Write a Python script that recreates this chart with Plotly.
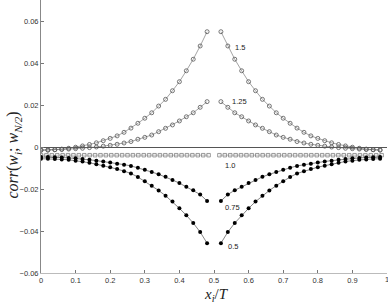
import plotly.graph_objects as go

# x positions (fraction of T)
x_left = [0.00, 0.02, 0.04, 0.06, 0.08, 0.10, 0.12, 0.14, 0.16, 0.18, 0.20, 0.22, 0.24,
          0.26, 0.28, 0.30, 0.32, 0.34, 0.36, 0.38, 0.40, 0.42, 0.44, 0.46, 0.48]
x_right = [0.52, 0.54, 0.56, 0.58, 0.60, 0.62, 0.64, 0.66, 0.68, 0.70, 0.72, 0.74,
           0.76, 0.78, 0.80, 0.82, 0.84, 0.86, 0.88, 0.90, 0.92, 0.94, 0.96, 0.98]

# left-half values (x = 0 .. 0.48)
v15_left = [-0.0016, -0.0015, -0.0013, -0.0010, -0.0006, -0.0001, 0.0005, 0.0012, 0.0020,
            0.0030, 0.0041, 0.0053, 0.0070, 0.0090, 0.0113, 0.0137, 0.0163, 0.0195, 0.0227,
            0.0268, 0.0311, 0.0363, 0.0418, 0.0481, 0.0549]
v15_right = [0.0549, 0.0481, 0.0418, 0.0363, 0.0311, 0.0268, 0.0227, 0.0195, 0.0163, 0.0137,
             0.0113, 0.0090, 0.0070, 0.0053, 0.0041, 0.0030, 0.0020, 0.0012, 0.0005, -0.0001,
             -0.0006, -0.0010, -0.0013, -0.0015]

v125_left = [-0.0014, -0.0014, -0.0013, -0.0012, -0.0010, -0.0008, -0.0006, -0.0003, 0.0000,
             0.0004, 0.0008, 0.0013, 0.0019, 0.0026, 0.0037, 0.0046, 0.0057, 0.0073, 0.0089,
             0.0105, 0.0124, 0.0144, 0.0163, 0.0189, 0.0216]
v125_right = [0.0216, 0.0189, 0.0163, 0.0144, 0.0124, 0.0105, 0.0089, 0.0073, 0.0057, 0.0046,
              0.0037, 0.0026, 0.0019, 0.0013, 0.0008, 0.0004, 0.0000, -0.0003, -0.0006, -0.0008,
              -0.0010, -0.0012, -0.0013, -0.0014]

v075_left = [-0.0048, -0.0048, -0.0049, -0.0050, -0.0052, -0.0054, -0.0057, -0.0061, -0.0065,
             -0.0069, -0.0074, -0.0080, -0.0084, -0.0090, -0.0099, -0.0108, -0.0119, -0.0130,
             -0.0142, -0.0157, -0.0172, -0.0189, -0.0206, -0.0226, -0.0257]
v075_right = [-0.0257, -0.0226, -0.0206, -0.0189, -0.0172, -0.0157, -0.0142, -0.0130, -0.0119,
              -0.0108, -0.0099, -0.0090, -0.0084, -0.0080, -0.0074, -0.0069, -0.0065, -0.0061,
              -0.0057, -0.0054, -0.0052, -0.0050, -0.0049, -0.0048]

v05_left = [-0.0056, -0.0056, -0.0057, -0.0059, -0.0061, -0.0065, -0.0069, -0.0075, -0.0082,
            -0.0089, -0.0096, -0.0105, -0.0115, -0.0126, -0.0143, -0.0163, -0.0184, -0.0207,
            -0.0232, -0.0260, -0.0292, -0.0325, -0.0362, -0.0405, -0.0458]
v05_right = [-0.0458, -0.0405, -0.0362, -0.0325, -0.0292, -0.0260, -0.0232, -0.0207, -0.0184,
             -0.0163, -0.0143, -0.0126, -0.0115, -0.0105, -0.0096, -0.0089, -0.0082, -0.0075,
             -0.0069, -0.0065, -0.0061, -0.0059, -0.0057, -0.0056]

# 1.0 series is sampled on a finer grid (i/64)
x10_left = [i / 64 for i in range(0, 32)]
x10_right = [i / 64 for i in range(33, 64)]
v10_left = [-0.0039, -0.0039, -0.0039, -0.0039, -0.0039, -0.0039, -0.0039, -0.0039,
            -0.0039, -0.0039, -0.0039, -0.0039, -0.0039, -0.0039, -0.0039, -0.0039,
            -0.0039, -0.0039, -0.0039, -0.0039, -0.0039, -0.0039, -0.0039, -0.0039,
            -0.0039, -0.0039, -0.0039, -0.0039, -0.0039, -0.0039, -0.0039, -0.0039]
v10_right = [-0.0039, -0.0039, -0.0039, -0.0039, -0.0039, -0.0039, -0.0039, -0.0039,
             -0.0039, -0.0039, -0.0039, -0.0039, -0.0039, -0.0039, -0.0039, -0.0039,
             -0.0039, -0.0039, -0.0039, -0.0039, -0.0039, -0.0039, -0.0039, -0.0039,
             -0.0039, -0.0039, -0.0039, -0.0039, -0.0039, -0.0039, -0.0039]

label_text = ["1.5", "1.25", "1.0", "0.75", "0.5"]
label_x = [0.574, 0.574, 0.546, 0.553, 0.555]
label_y = [0.0474, 0.0216, -0.0086, -0.0288, -0.0474]

x_ticks = [0, 0.1, 0.2, 0.3, 0.4, 0.5, 0.6, 0.7, 0.8, 0.9]
x_tick_text = ["0", "0.1", "0.2", "0.3", "0.4", "0.5", "0.6", "0.7", "0.8", "0.9"]
x_last_tick = "1"
y_ticks = [-0.06, -0.04, -0.02, 0, 0.02, 0.04, 0.06]
y_tick_text = ["\u22120.06", "\u22120.04", "\u22120.02", "0", "0.02", "0.04", "0.06"]

x_title = "<i>x<sub>i</sub></i>/<i>T</i>"
y_title = "<i>corr</i>(<i>w<sub>i</sub></i>; <i>w<sub>N/2</sub></i>)"

fig = go.Figure()

open_circle = dict(symbol="circle-open", size=4, color="#555555", line=dict(width=0.8))
filled_dot = dict(symbol="circle", size=4, color="#000000")
square = dict(symbol="square-open", size=3.5, color="#808080", line=dict(width=0.8))

def add(xs, ys, marker, lcolor):
    fig.add_trace(go.Scatter(x=xs, y=ys, mode="lines+markers", marker=marker,
                             line=dict(color=lcolor, width=0.6), showlegend=False,
                             hoverinfo="skip"))

add(x10_left, v10_left, square, "#999999")
add(x10_right, v10_right, square, "#999999")
add(x_left, v15_left, open_circle, "#666666")
add(x_right, v15_right, open_circle, "#666666")
add(x_left, v125_left, open_circle, "#666666")
add(x_right, v125_right, open_circle, "#666666")
add(x_left, v075_left, filled_dot, "#333333")
add(x_right, v075_right, filled_dot, "#333333")
add(x_left, v05_left, filled_dot, "#333333")
add(x_right, v05_right, filled_dot, "#333333")

for t, lx, ly in zip(label_text, label_x, label_y):
    fig.add_annotation(x=lx, y=ly, text=t, showarrow=False, xanchor="center", yanchor="middle",
                       font=dict(family="Liberation Sans, Arial", size=7.5, color="#222222"))

tick_font = dict(family="Liberation Sans, Arial", size=7.5, color="#333333")

# last x tick label sits on the right edge of the figure
fig.add_annotation(xref="paper", yref="paper", x=1, y=-0.022, text=x_last_tick,
                   showarrow=False, xanchor="center", yanchor="middle", font=tick_font)

fig.add_annotation(xref="paper", yref="paper", x=0.506, y=-0.08, text=x_title,
                   showarrow=False, xanchor="center", yanchor="middle",
                   font=dict(family="Liberation Serif, Times New Roman", size=15,
                             color="#222222"))
fig.add_annotation(xref="paper", yref="paper", x=-0.078, y=0.43, text=y_title,
                   showarrow=False, xanchor="center", yanchor="middle", textangle=-90,
                   font=dict(family="Liberation Serif, Times New Roman", size=16,
                             color="#222222"))

fig.update_layout(
    width=388, height=304,
    margin=dict(l=41, r=1, t=0, b=31),
    paper_bgcolor="white", plot_bgcolor="white",
    xaxis=dict(range=[0, 1], tickvals=x_ticks, ticktext=x_tick_text, ticks="inside",
               ticklen=3, tickcolor="#777777", showgrid=False, zeroline=False,
               showline=True, linecolor="#bbbbbb", linewidth=1, tickfont=tick_font,
               automargin=False),
    yaxis=dict(range=[-0.06, 0.07], tickvals=y_ticks, ticktext=y_tick_text, ticks="inside",
               ticklen=3, tickcolor="#777777", showgrid=False, zeroline=True,
               zerolinecolor="#555555", zerolinewidth=1,
               showline=True, linecolor="#888888", linewidth=1, tickfont=tick_font,
               automargin=False),
)

fig.write_html("out.html", config={"displayModeBar": False},
               post_script="document.body.style.margin='0';document.body.style.padding='0';")
